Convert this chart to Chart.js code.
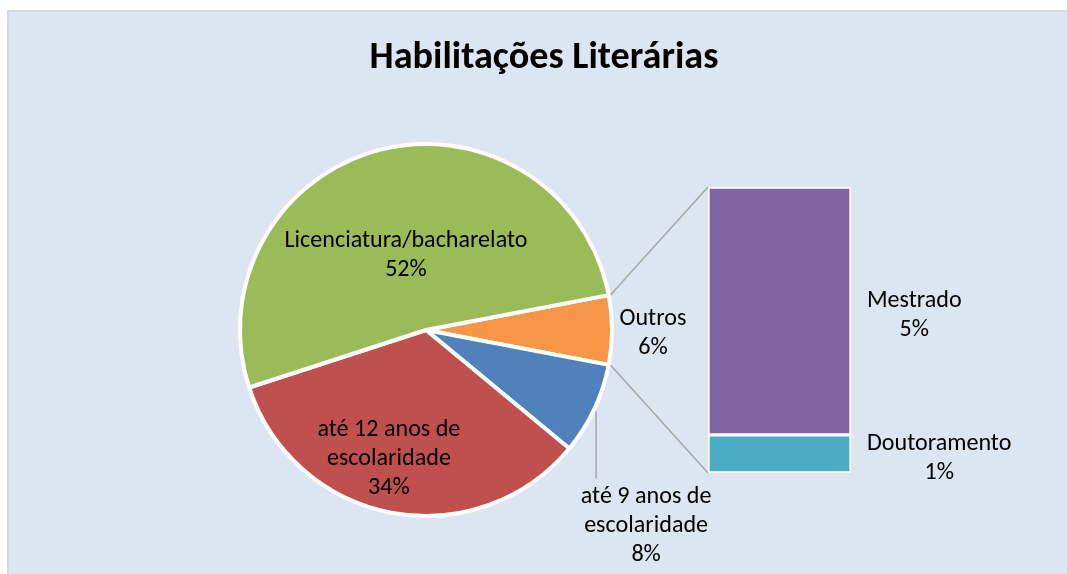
<!DOCTYPE html>
<html><head><meta charset="utf-8">
<script src="https://cdn.jsdelivr.net/npm/chart.js@4.4.1/dist/chart.umd.min.js"></script>
<style>
html,body{margin:0;padding:0;background:#fff;}
#wrap{position:relative;width:1067px;height:574px;overflow:hidden;}
#frame{position:absolute;left:7px;top:10px;width:1060px;height:570px;background:#DCE6F2;border-left:2px solid #D9D9D9;border-top:2px solid #D9D9D9;box-sizing:border-box;}
canvas{position:absolute;left:0;top:0;}
</style></head><body>
<div id="wrap"><div id="frame"></div>
<canvas id="pie" width="1067" height="574"></canvas>
<canvas id="bar" width="1067" height="574"></canvas>
</div>
<script>
// ---- data ----
const chartTitle = 'Habilitações Literárias';
const otherLabel = 'Outros';
const mainLabels = ['até 9 anos de escolaridade', 'até 12 anos de escolaridade', 'Licenciatura/bacharelato'];
const mainValues = [8, 34, 52];
const splitLabels = ['Mestrado', 'Doutoramento'];
const splitValues = [5.2, 0.8];

// ---- styles ----
const pieColors = ['#F79646', '#4F81BD', '#C0504D', '#9BBB59'];
const splitColors = ['#8064A2', '#4BACC6'];
const FONT = 'Carlito, Lato, "Liberation Sans", sans-serif';

// size fonts so text widths resemble the reference
const mctx = document.createElement('canvas').getContext('2d');
mctx.font = '24px ' + FONT;
const bodySize = Math.round(24 * 243 / mctx.measureText('Licenciatura/bacharelato').width * 10) / 10;
mctx.font = 'bold 38px ' + FONT;
const titleSize = Math.round(38 * 349 / mctx.measureText(chartTitle).width * 10) / 10;
const LH = 29;
const TEXT_SHIFT = 3;

const otherTotal = splitValues.reduce((a, b) => a + b, 0);
const pieLabels = [otherLabel, ...mainLabels];
const pieValues = [otherTotal, ...mainValues];
const total = pieValues.reduce((a, b) => a + b, 0);
const pct = v => Math.round(v / total * 100) + '%';

function wrap(ctx, text, maxW) {
  const words = text.split(' ');
  const lines = [];
  let cur = '';
  for (const w of words) {
    const t = cur ? cur + ' ' + w : w;
    if (cur && ctx.measureText(t).width > maxW) { lines.push(cur); cur = w; } else cur = t;
  }
  if (cur) lines.push(cur);
  return lines;
}
function drawBlock(ctx, lines, cx, cy) {
  ctx.textAlign = 'center';
  ctx.textBaseline = 'middle';
  lines.forEach((l, i) => ctx.fillText(l, cx, cy + TEXT_SHIFT + (i - (lines.length - 1) / 2) * LH));
}

// label placement for pie slices (angle in degrees on screen, distance as fraction of radius)
const piePlace = [
  {ang: 0, f: 1.22},
  {ang: 41.25, f: 1.574, leader: true},
  {ang: 106.4, f: 0.706},
  {ang: 255.6, f: 0.433}
];

const pieLabelPlugin = {
  id: 'pieLabels',
  afterDraw(chart) {
    const ctx = chart.ctx;
    const arcs = chart.getDatasetMeta(0).data;
    const {x: cx, y: cy, outerRadius: R} = arcs[0];
    ctx.save();
    ctx.font = bodySize + 'px ' + FONT;
    ctx.fillStyle = '#000';
    pieLabels.forEach((lab, i) => {
      const p = piePlace[i];
      const a = p.ang * Math.PI / 180;
      const bx = cx + Math.cos(a) * R * p.f;
      const by = cy + Math.sin(a) * R * p.f;
      const lines = wrap(ctx, lab, 200).concat([pct(pieValues[i])]);
      drawBlock(ctx, lines, bx, by);
      if (p.leader) {
        const lx = bx - 50;
        const y0 = cy + Math.sqrt(Math.max(R * R - (lx - cx) * (lx - cx), 0)) + 6;
        const y1 = by - lines.length * LH / 2 - 1;
        ctx.strokeStyle = '#A6A6A6';
        ctx.lineWidth = 1.5;
        ctx.beginPath(); ctx.moveTo(lx, y0); ctx.lineTo(lx, y1); ctx.stroke();
      }
    });
    ctx.restore();
  }
};

const pieChart = new Chart(document.getElementById('pie'), {
  type: 'pie',
  data: {labels: pieLabels, datasets: [{data: pieValues, backgroundColor: pieColors, borderColor: '#FFFFFF', borderWidth: 4}]},
  options: {
    responsive: false, animation: false, devicePixelRatio: 1,
    rotation: 90 - (otherTotal / total) * 180,
    radius: 186,
    layout: {padding: {left: 236, right: 451, top: 140, bottom: 54}},
    plugins: {legend: {display: false}, tooltip: {enabled: false}}
  },
  plugins: [pieLabelPlugin]
});

const barPlugin = {
  id: 'barExtras',
  afterDraw(chart) {
    const ctx = chart.ctx;
    const top = chart.getDatasetMeta(chart.data.datasets.length - 1).data[0];
    const bottom = chart.getDatasetMeta(0).data[0];
    const left = top.x - top.width / 2;
    const right = top.x + top.width / 2;
    const arc = pieChart.getDatasetMeta(0).data[0];
    const {x: cx, y: cy, outerRadius: R, startAngle: s, endAngle: e} = arc;
    ctx.save();
    ctx.strokeStyle = '#A6A6A6';
    ctx.lineWidth = 1.5;
    ctx.beginPath();
    ctx.moveTo(cx + Math.cos(s) * (R + 2), cy + Math.sin(s) * (R + 2));
    ctx.lineTo(left, top.y);
    ctx.moveTo(cx + Math.cos(e) * (R + 2), cy + Math.sin(e) * (R + 2));
    ctx.lineTo(left, bottom.base);
    ctx.stroke();
    // segment labels
    ctx.font = bodySize + 'px ' + FONT;
    ctx.fillStyle = '#000';
    chart.data.datasets.forEach((ds, di) => {
      const el = chart.getDatasetMeta(di).data[0];
      const lines = [ds.label, pct(ds.data[0])];
      const w = Math.max(...lines.map(l => ctx.measureText(l).width));
      drawBlock(ctx, lines, right + 16 + w / 2, (el.y + el.base) / 2 + 2);
    });
    ctx.restore();
  }
};

const barDatasets = splitLabels.map((l, i) => ({
  label: l, data: [splitValues[i]], backgroundColor: splitColors[i],
  borderColor: '#FFFFFF', borderWidth: 2, borderSkipped: false,
  categoryPercentage: 1, barPercentage: 1
})).reverse();

const hiddenAxis = w => ({
  display: true, ticks: {display: false}, grid: {display: false}, border: {display: false},
  afterFit(s) { s.width = w; }
});

const barChart = new Chart(document.getElementById('bar'), {
  type: 'bar',
  data: {labels: [otherLabel], datasets: barDatasets},
  options: {
    responsive: false, animation: false, devicePixelRatio: 1,
    layout: {padding: {left: 21, right: 0, top: 0, bottom: 101}},
    plugins: {
      legend: {display: false}, tooltip: {enabled: false},
      title: {
        display: true, text: chartTitle, color: '#000',
        font: {family: FONT, size: titleSize, weight: 'bold', lineHeight: 1.2},
        padding: {top: 58 - titleSize * 0.6, bottom: 187 - (58 - titleSize * 0.6) - titleSize * 1.2}
      }
    },
    scales: {
      x: {stacked: true, display: false},
      y: Object.assign({stacked: true, min: 0, max: otherTotal}, hiddenAxis(687)),
      y2: Object.assign({position: 'right'}, hiddenAxis(216))
    }
  },
  plugins: [barPlugin]
});
</script>
</body></html>
